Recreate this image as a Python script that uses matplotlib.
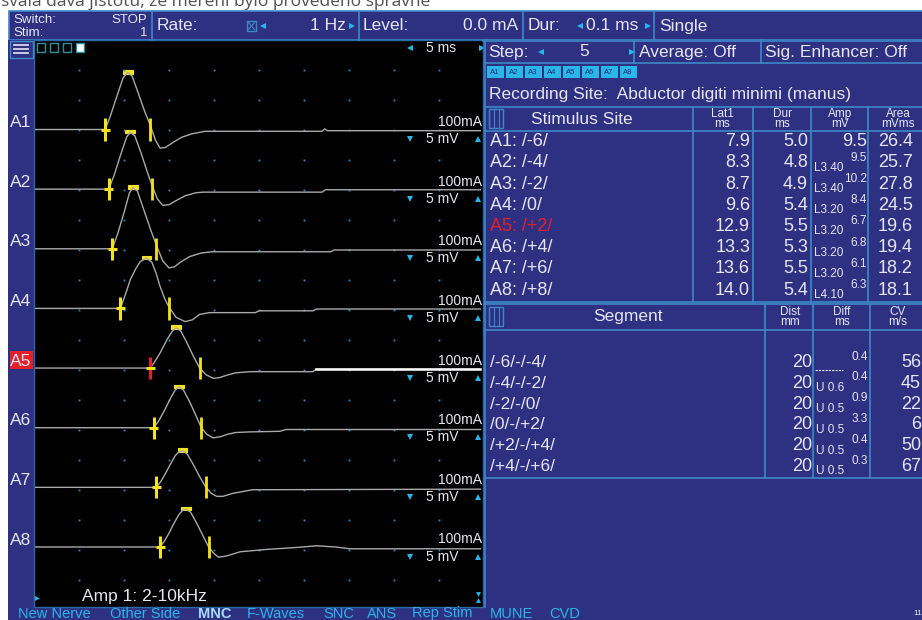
import matplotlib
matplotlib.use('Agg')
import matplotlib.pyplot as plt
from matplotlib.patches import Rectangle

plt.rcParams['font.family'] = ['Liberation Sans', 'DejaVu Sans']

# ------------------------------------------------------------------ data
trace_names = ['A1', 'A2', 'A3', 'A4', 'A5', 'A6', 'A7', 'A8']
stim_sites = ['/-6/', '/-4/', '/-2/', '/0/', '/+2/', '/+4/', '/+6/', '/+8/']
lat1_ms = [7.9, 8.3, 8.7, 9.6, 12.9, 13.3, 13.6, 14.0]
dur_ms = [5.0, 4.8, 4.9, 5.4, 5.5, 5.3, 5.5, 5.4]
amp_mV = [9.5, 9.5, 10.2, 8.4, 6.7, 6.8, 6.1, 6.3]
amp_ref = ['', 'L3.40', 'L3.40', 'L3.20', 'L3.20', 'L3.20', 'L3.20', 'L4.10']
area_mVms = [26.4, 25.7, 27.8, 24.5, 19.6, 19.4, 18.2, 18.1]
peak_ms = [10.4, 10.7, 11.0, 12.5, 15.8, 16.1, 16.5, 16.9]

segments = ['/-6/-/-4/', '/-4/-/-2/', '/-2/-/0/', '/0/-/+2/', '/+2/-/+4/', '/+4/-/+6/']
seg_dist_mm = [20, 20, 20, 20, 20, 20]
seg_diff_ms = [0.4, 0.4, 0.9, 3.3, 0.4, 0.3]
seg_ref = ['', 'U 0.6', 'U 0.5', 'U 0.5', 'U 0.5', 'U 0.5']
seg_cv = [56, 45, 22, 6, 50, 67]

menu_items = ['New Nerve', 'Other Side', 'MNC', 'F-Waves', 'SNC', 'ANS', 'Rep Stim', 'MUNE', 'CVD']
chips = ['A1', 'A2', 'A3', 'A4', 'A5', 'A6', 'A7', 'A8']

# waveforms (time ms, mV relative to baseline)
t_A1 = [0.1, 7.9, 8.5, 9.2, 9.9, 10.4, 10.9, 11.6, 12.3, 12.9, 13.5, 14.0, 14.6, 15.4, 16.4, 17.6, 19.0, 32.0, 32.3, 32.6, 49.6]
v_A1 = [0, 0, 2.3, 5.5, 8.6, 9.5, 8.9, 6.0, 3.0, 0.8, -1.8, -3.1, -3.0, -2.2, -1.3, -0.7, -0.3, -0.3, 0.1, -0.2, -0.2]
t_A2 = [0.1, 8.3, 8.9, 9.6, 10.3, 10.7, 11.2, 11.9, 12.6, 13.1, 13.7, 14.3, 15.0, 15.8, 16.8, 18.0, 18.8, 32.0, 32.4, 49.6]
v_A2 = [0, 0, 2.3, 5.6, 8.7, 9.5, 8.9, 6.0, 2.8, 0.7, -1.6, -2.7, -2.6, -1.9, -1.1, -0.6, -0.5, -0.5, -0.1, -0.1]
t_A3 = [0.1, 8.7, 9.3, 10.0, 10.6, 11.0, 11.5, 12.2, 13.0, 13.6, 14.3, 15.0, 15.6, 16.3, 17.3, 18.6, 19.8, 33.0, 33.3, 49.6]
v_A3 = [0, 0, 2.5, 6.0, 9.3, 10.2, 9.6, 6.5, 3.0, 0.6, -2.0, -3.2, -3.0, -2.2, -1.3, -0.7, -0.5, -0.5, -0.2, -0.2]
t_A4 = [0.1, 9.6, 10.2, 10.7, 11.3, 11.8, 12.5, 13.1, 13.6, 14.0, 14.5, 15.0, 15.8, 16.8, 17.6, 18.4, 19.5, 24.6, 25.0, 31.0, 31.4, 49.6]
v_A4 = [0, 0, 2.5, 4.8, 6.6, 7.8, 8.4, 7.7, 5.7, 3.7, 1.7, 0.2, -1.5, -2.2, -1.9, -1.0, -0.7, -0.7, -0.4, -0.4, -0.1, -0.1]
t_A5 = [0.1, 12.9, 13.4, 14.0, 14.8, 15.4, 15.8, 16.3, 17.0, 17.7, 18.4, 19.1, 19.9, 20.6, 21.4, 22.4, 24.0, 31.0, 31.3, 49.6]
v_A5 = [0, 0, 1.0, 2.5, 4.8, 6.2, 6.7, 6.2, 4.2, 2.0, 0.0, -1.1, -1.7, -1.6, -1.2, -0.8, -0.6, -0.6, -0.2, -0.2]
t_A6 = [0.1, 13.3, 13.8, 14.4, 15.2, 15.7, 16.1, 16.6, 17.3, 18.0, 18.6, 19.2, 19.9, 20.7, 21.5, 22.4, 24.0, 27.3, 28.0, 49.6]
v_A6 = [0, 0, 1.0, 2.6, 5.0, 6.3, 6.8, 6.3, 4.3, 2.0, 0.0, -1.1, -1.7, -1.5, -1.1, -0.8, -0.7, -0.6, -0.3, -0.3]
t_A7 = [0.1, 13.6, 14.1, 14.6, 15.1, 15.7, 16.1, 16.5, 17.0, 17.7, 18.4, 19.1, 19.7, 20.3, 21.0, 22.1, 23.2, 24.3, 49.6]
v_A7 = [0, 0, 1.0, 2.3, 3.7, 5.3, 5.9, 6.1, 5.6, 3.8, 1.8, 0.0, -1.0, -1.5, -1.5, -1.0, -0.7, -0.4, -0.3]
t_A8 = [0.1, 14.0, 14.5, 15.0, 15.5, 16.1, 16.5, 16.9, 17.4, 18.1, 18.8, 19.4, 20.0, 20.5, 21.4, 22.9, 25.9, 29.0, 31.4, 33.5, 35.1, 49.6]
v_A8 = [0, 0, 1.0, 2.3, 3.8, 5.4, 6.1, 6.3, 5.8, 3.9, 1.8, 0.0, -1.1, -1.7, -1.5, -0.8, -0.4, -0.1, 0.2, 0.0, -0.3, -0.3]
traces_t = [t_A1, t_A2, t_A3, t_A4, t_A5, t_A6, t_A7, t_A8]
traces_v = [v_A1, v_A2, v_A3, v_A4, v_A5, v_A6, v_A7, v_A8]

# ------------------------------------------------------------------ style
W, H = 922, 620
BLUE = '#2e3082'
LINE = '#3c88c8'
TXT = '#e6e6f2'
CYAN = '#2bb6ea'
YEL = '#f4e31c'
RED = '#e3202a'
TRACE = '#a9a9a9'
DOT = '#1f8fc4'

fig = plt.figure(figsize=(W / 100, H / 100), dpi=100, facecolor='white')


def px_rect(x0, y0, x1, y1):
    return [x0 / W, 1 - y1 / H, (x1 - x0) / W, (y1 - y0) / H]


# ------------------------------------------------------------------ waveform panel
Y_TOP = 89.5 / 6
Y_BOT = Y_TOP - 567 / 6
SP = 9.94
wave = fig.add_axes(px_rect(34, 40, 484, 607))
wave.set_zorder(1)
wave.set_facecolor('black')
wave.set_xlim(0, 50)
wave.set_ylim(Y_BOT, Y_TOP)
wave.set_xticks([])
wave.set_yticks([])
for s in wave.spines.values():
    s.set_visible(False)

# grid dots
gx, gy = [], []
for tx in range(5, 50, 5):
    for k in range(18):
        gx.append(tx)
        gy.append(10 - 5 * k)
wave.plot(gx, gy, ls='none', marker='s', ms=1.3, color=DOT, mew=0)

for i in range(8):
    off = -i * SP
    wave.plot(traces_t[i], [off + v for v in traces_v[i]], color=TRACE, lw=1.0)
    if i == 4:
        tt = [t for t in traces_t[i] if t >= 31.3]
        vv = [off + v for t, v in zip(traces_t[i], traces_v[i]) if t >= 31.3]
        wave.plot(tt, vv, color='white', lw=1.8)
    lat = lat1_ms[i]
    wave.plot([lat, lat], [off - 1.85, off + 1.85], color=RED if i == 4 else YEL, lw=2.2, solid_capstyle='butt')
    wave.plot([lat - 0.5, lat + 0.5], [off, off], color=YEL, lw=2.2, solid_capstyle='butt')
    e = lat + dur_ms[i]
    wave.plot([e, e], [off - 1.85, off + 1.85], color=YEL, lw=2.0, solid_capstyle='butt')
    wave.add_patch(Rectangle((peak_ms[i] - 0.55, off + amp_mV[i] - 0.2), 1.1, 0.6,
                             fc=YEL, ec=YEL, lw=0.8))
    wave.text(49.75, off + 1.25, '100mA', ha='right', va='center', fontsize=10, color=TXT)
    wave.plot(41.8, off - 1.6, marker='v', ms=4, color=CYAN, mew=0)
    wave.text(43.6, off - 1.6, '5 mV', ha='left', va='center', fontsize=10, color=TXT)
    wave.plot(49.3, off - 1.6, marker='^', ms=4, color=CYAN, mew=0, clip_on=False)

ytop_lbl = Y_TOP - 7.5 / 6
wave.plot(41.8, ytop_lbl, marker='<', ms=4, color=CYAN, mew=0)
wave.text(43.6, ytop_lbl, '5 ms', ha='left', va='center', fontsize=10, color=TXT)
wave.plot(49.8, ytop_lbl, marker='>', ms=4, color=CYAN, mew=0, clip_on=False)

# ------------------------------------------------------------------ overlay (pixel coordinates)
bg = fig.add_axes([0, 0, 1, 1])
bg.set_zorder(2)
bg.set_xlim(0, W)
bg.set_ylim(H, 0)
bg.axis('off')


def rect(x0, y0, x1, y1, fc=BLUE, ec='none', lw=1.0, z=1):
    bg.add_patch(Rectangle((x0, y0), x1 - x0, y1 - y0, fc=fc, ec=ec, lw=lw, zorder=z))


def hline(y, x0, x1, color=LINE, lw=1.2):
    bg.plot([x0, x1], [y, y], color=color, lw=lw, zorder=3)


def vline(x, y0, y1, color=LINE, lw=1.2):
    bg.plot([x, x], [y0, y1], color=color, lw=lw, zorder=3)


def T(x, y, s, size=12.5, color=TXT, ha='left', va='center', **kw):
    bg.text(x, y, s, fontsize=size, color=color, ha=ha, va=va, zorder=5, **kw)


# cut-off caption at the very top
bg.text(1, 6.5, 'svala dává jistotu, že měření bylo provedeno správně', fontsize=12.5,
        color='#505050', ha='left', va='baseline', family=['Open Sans', 'DejaVu Sans'], zorder=5)

# panels
rect(9, 11, W + 2, 40, ec=LINE, lw=1.2)
rect(8, 40, 33.5, H + 2)
rect(483, 40, W + 2, H + 2)
rect(8, 607, W + 2, H + 2)
bg.add_patch(Rectangle((33.5, 40), 449.5, 567, fc='none', ec='#2a6aa8', lw=1.0, zorder=2))

# top bar
T(13, 20, 'Switch:', 9.5)
T(13, 33, 'Stim:', 9.5)
T(147, 20, 'STOP', 9.5, ha='right')
T(147, 33, '1', 9.5, ha='right')
vline(152, 11, 40)
T(157, 26, 'Rate:', 12.5)
rect(247, 21, 256, 31, fc='none', ec=LINE, lw=1.0, z=4)
bg.plot([248.5, 254.5], [22.5, 29.5], color=LINE, lw=0.8, zorder=4)
bg.plot([248.5, 254.5], [29.5, 22.5], color=LINE, lw=0.8, zorder=4)
bg.plot(263, 26, marker='<', ms=4, color=CYAN, mew=0, zorder=5)
T(346, 26, '1 Hz', 12.5, ha='right')
bg.plot(352, 26, marker='>', ms=4, color=CYAN, mew=0, zorder=5)
vline(359, 11, 40)
T(363, 26, 'Level:', 12.5)
T(518, 26, '0.0 mA', 12.5, ha='right')
vline(523, 11, 40)
T(528, 26, 'Dur:', 12.5)
bg.plot(580, 26, marker='<', ms=4, color=CYAN, mew=0, zorder=5)
T(586, 26, '0.1 ms', 12.5)
bg.plot(648, 26, marker='>', ms=4, color=CYAN, mew=0, zorder=5)
vline(654, 11, 40)
T(659, 26, 'Single', 12.5)

# left strip
rect(9.5, 40.5, 32.5, 57.5, ec=LINE, lw=1.0, z=3)
for yy in (45, 49, 53):
    bg.plot([14, 28], [yy, yy], color='#d8d8ee', lw=1.3, zorder=4)
for j, xs in enumerate((37, 50, 63, 76)):
    if j < 3:
        rect(xs, 42.5, xs + 7.5, 51.5, fc='none', ec='#2a8f9c', lw=1.0, z=4)
    else:
        rect(xs, 42.5, xs + 7.5, 51.5, fc='white', ec='#2a8f9c', lw=1.0, z=4)
for i, name in enumerate(trace_names):
    yb = 129.5 + i * 59.65
    if i == 4:
        rect(9.5, yb - 17.5, 33, yb + 0.5, fc=RED, z=3)
    T(10, yb - 7, name, 12.5)

# bottom of wave panel
bg.plot(37, 598, marker='>', ms=3.5, color=CYAN, mew=0, zorder=5)
T(82, 596, 'Amp 1: 2-10kHz', 12.5)
bg.plot(478, 594, marker='v', ms=3.5, color=CYAN, mew=0, zorder=5)
bg.plot(478, 600, marker='^', ms=3.5, color=CYAN, mew=0, zorder=5)

# bottom menu
menu_x = [18, 110, 198, 247, 323, 367, 412, 490, 549]
for mx, item in zip(menu_x, menu_items):
    if item == 'MNC':
        T(mx, 613.5, item, 10.5, color='#a8dcff', weight='bold')
    else:
        T(mx, 613.5, item, 10.5, color=CYAN)
T(913, 613.5, '11', 6, color=TXT)

# right panel: row 2
vline(485, 40, 607)
hline(40.5, 483, W)
hline(63, 485, W)
T(488, 52, 'Step:', 12.5)
bg.plot(541, 52, marker='<', ms=4, color=CYAN, mew=0, zorder=5)
T(584, 52, '5', 12.5, ha='center')
bg.plot(632, 52, marker='>', ms=4, color=CYAN, mew=0, zorder=5)
vline(634, 40, 63)
T(639, 52, 'Average: Off', 12.5)
vline(761, 40, 63)
T(765, 52, 'Sig. Enhancer: Off', 12.5)

# chips
for j, c in enumerate(chips):
    x0 = 486.5 + j * 19
    rect(x0, 66, x0 + 17, 78, fc=CYAN, z=3)
    T(x0 + 8.5, 72, c, 5.5, color='#1c2a78', ha='center')

T(489, 95, 'Recording Site:  Abductor digiti minimi (manus)', 12.5)


def grid_icon(y0, y1):
    rect(489, y0, 503, y1, fc='none', ec=LINE, lw=1.0, z=4)
    vline(493.5, y0, y1, lw=0.8)
    vline(498.5, y0, y1, lw=0.8)


# table 1
hline(107, 485, W)
hline(131, 485, W)
hline(302, 485, W)
for xc in (693, 753, 811, 868):
    vline(xc, 107, 302)
grid_icon(109, 128)
T(582, 119, 'Stimulus Site', 12.5, ha='center')
for xc, hd in ((722, 'Lat1\nms'), (782, 'Dur\nms'), (840, 'Amp\nmV'), (898, 'Area\nmVms')):
    T(xc, 119, hd, 8.5, ha='center', linespacing=0.85)
for i in range(8):
    yc = 141.7 + i * 21.2
    col = RED if i == 4 else TXT
    T(490, yc, f'{trace_names[i]}: {stim_sites[i]}', 13, color=col)
    T(750, yc, f'{lat1_ms[i]:.1f}', 13, ha='right')
    T(808, yc, f'{dur_ms[i]:.1f}', 13, ha='right')
    if amp_ref[i]:
        T(867, yc - 5, f'{amp_mV[i]:.1f}', 8.5, ha='right')
        T(814, yc + 5, amp_ref[i], 8.5)
    else:
        T(867, yc, f'{amp_mV[i]:.1f}', 13, ha='right')
    T(878, yc, f'{area_mVms[i]:.1f}', 13)

# table 2
hline(304, 485, W)
hline(330, 485, W)
hline(478, 485, W)
for xc in (765, 813, 870):
    vline(xc, 304, 478)
grid_icon(307, 326)
T(628, 317, 'Segment', 12.5, ha='center')
for xc, hd in ((790, 'Dist\nmm'), (842, 'Diff\nms'), (898, 'CV\nm/s')):
    T(xc, 317, hd, 8.5, ha='center', linespacing=0.85)
for i in range(6):
    yc = 362.5 + i * 20.8
    T(490, yc, segments[i], 12.5)
    T(812, yc, f'{seg_dist_mm[i]}', 13, ha='right')
    T(868, yc - 6, f'{seg_diff_ms[i]:.1f}', 8.5, ha='right')
    if seg_ref[i]:
        T(816, yc + 5, seg_ref[i], 8.5)
    else:
        bg.plot([815, 843], [yc + 7, yc + 7], color=TXT, lw=0.8, ls=(0, (2, 1)), zorder=5)
    T(921, yc, f'{seg_cv[i]}', 13, ha='right')

fig.savefig('out.png', dpi=100, facecolor='white')
